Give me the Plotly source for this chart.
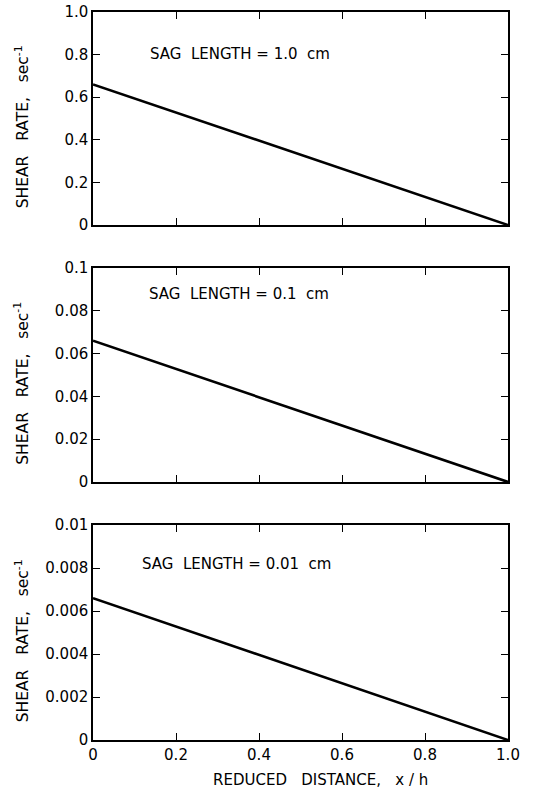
import plotly.graph_objects as go
from plotly.subplots import make_subplots

x_vals = [0.0, 1.0]
shear_1cm = [0.66, 0.0]
shear_01cm = [0.066, 0.0]
shear_001cm = [0.0066, 0.0]

x_ticks = [0, 0.2, 0.4, 0.6, 0.8, 1.0]
x_ticktext = ["0", "0.2", "0.4", "0.6", "0.8", "1.0"]
y1_ticks = [0, 0.2, 0.4, 0.6, 0.8, 1.0]
y1_text = ["0", "0.2", "0.4", "0.6", "0.8", "1.0"]
y2_ticks = [0, 0.02, 0.04, 0.06, 0.08, 0.1]
y2_text = ["0", "0.02", "0.04", "0.06", "0.08", "0.1"]
y3_ticks = [0, 0.002, 0.004, 0.006, 0.008, 0.01]
y3_text = ["0", "0.002", "0.004", "0.006", "0.008", "0.01"]
labels = ["SAG  LENGTH = 1.0  cm", "SAG  LENGTH = 0.1  cm", "SAG  LENGTH = 0.01  cm"]
label_pos = [(0.133, 0.805), (0.130, 0.878), (0.113, 0.82)]

FONT = "DejaVu Sans, Arial, sans-serif"

fig = make_subplots(rows=3, cols=1)
series = [shear_1cm, shear_01cm, shear_001cm]
yticks = [(y1_ticks, y1_text), (y2_ticks, y2_text), (y3_ticks, y3_text)]
domains = [[0.7074, 1.0], [0.3544, 0.6484], [0.0, 0.2953]]

for i, s in enumerate(series):
    r = i + 1
    fig.add_trace(go.Scatter(x=x_vals, y=s, mode="lines",
                             line=dict(color="black", width=2.6),
                             showlegend=False), row=r, col=1)
    tv, tt = yticks[i]
    fig.update_yaxes(range=[0, tv[-1]], tickvals=tv, ticktext=tt,
                     ticks="inside", ticklen=7, tickwidth=1.3, tickcolor="black",
                     showline=True, linecolor="black", linewidth=1.5, mirror="ticks",
                     showgrid=False, zeroline=False, domain=domains[i],
                     automargin=False,
                     tickfont=dict(family=FONT, size=15, color="black"),
                     row=r, col=1)
    fig.update_xaxes(range=[0, 1], tickvals=x_ticks, ticktext=x_ticktext,
                     ticks="inside", ticklen=7, tickwidth=1.3, tickcolor="black",
                     showline=True, linecolor="black", linewidth=1.5, mirror="ticks",
                     showgrid=False, zeroline=False, automargin=False,
                     showticklabels=(r == 3),
                     tickfont=dict(family=FONT, size=15, color="black"),
                     row=r, col=1)
    yref = "y" if r == 1 else f"y{r}"
    xref = "x" if r == 1 else f"x{r}"
    lx, ly = label_pos[i]
    fig.add_annotation(x=lx, y=ly * tv[-1], xref=xref, yref=yref,
                       text=labels[i], showarrow=False, xanchor="left",
                       font=dict(family=FONT, size=15, color="black"))
    d = domains[i]
    fig.add_annotation(x=-0.171, y=(d[0] + d[1]) / 2 - 0.012, xref="paper", yref="paper",
                       text="SHEAR   RATE,   sec<sup>-1</sup>", showarrow=False,
                       textangle=-90, xanchor="center", yanchor="middle",
                       font=dict(family=FONT, size=15.5, color="black"))

fig.add_annotation(x=0.549, y=-40 / 728, xref="paper", yref="paper",
                   text="REDUCED   DISTANCE,   x / h", showarrow=False,
                   xanchor="center", yanchor="middle",
                   font=dict(family=FONT, size=15, color="black"))

fig.update_layout(width=543, height=794, plot_bgcolor="white", paper_bgcolor="white",
                  margin=dict(l=93, r=35, t=12, b=54))
fig.write_html("out.html", config={"displayModeBar": False},
               post_script="document.body.style.margin='0';document.body.style.padding='0';")
